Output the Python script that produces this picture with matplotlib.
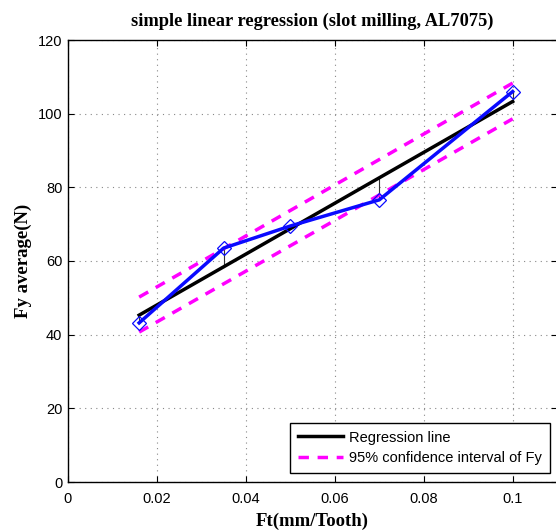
import numpy as np
import matplotlib
matplotlib.use('Agg')
import matplotlib.pyplot as plt

# Datos
Ft = [0.016, 0.035, 0.050, 0.070, 0.100]
Fy = [43.2, 63.5, 69.5, 76.6, 106.0]

# Recta de regresion y banda del 95% (extremos)
Reg_x = [0.016, 0.100]
Reg_y = [45.3, 103.3]
IC_sup = [50.2, 108.3]
IC_inf = [40.7, 98.6]

plt.rcParams['font.family'] = ['Liberation Sans', 'DejaVu Sans']

fig = plt.figure(figsize=(5.56, 5.31), dpi=100)
ax = fig.add_axes([68/556, 1-482/531, 1.002-68/556, (482-40)/531])

# residuos (lineas verticales finas)
Fy_reg = np.interp(Ft, Reg_x, Reg_y)
for x, y, yr in zip(Ft, Fy, Fy_reg):
    ax.plot([x, x], [y, yr], color='#333333', lw=0.8, zorder=2)

ax.plot(Reg_x, Reg_y, color='black', lw=2.5, label='Regression line', zorder=3)
ax.plot(Reg_x, IC_sup, color='#ff00ff', lw=2.5, ls=(0, (3, 2.5)),
        label='95% confidence interval of Fy', zorder=3)
ax.plot(Reg_x, IC_inf, color='#ff00ff', lw=2.5, ls=(0, (3, 2.5)), zorder=3)
ax.plot(Ft, Fy, color='#0a0aff', lw=2.5, marker='D', markersize=7,
        markerfacecolor='none', markeredgecolor='#0a0aff', markeredgewidth=0.9,
        zorder=4)

ax.set_xlim(0, 0.11)
ax.set_ylim(0, 120)
ax.set_xticks([0, 0.02, 0.04, 0.06, 0.08, 0.1])
ax.set_xticklabels(['0', '0.02', '0.04', '0.06', '0.08', '0.1'])
ax.set_yticks(np.arange(0, 121, 20))
ax.grid(True, color='#888888', ls=(0, (1, 4)), lw=0.8)
ax.tick_params(direction='in', top=True, right=True, labelsize=10.5,
               length=4, width=0.8)
ax.tick_params(axis='x', pad=7)
ax.tick_params(axis='y', pad=4)
for s in ax.spines.values():
    s.set_linewidth(1.0)

ax.set_title('simple linear regression (slot milling, AL7075)',
             family='Liberation Serif', fontweight='bold', fontsize=13.2, pad=10)
ax.set_xlabel('Ft(mm/Tooth)', family='Liberation Serif', fontweight='bold',
              fontsize=13.5, labelpad=5)
ax.set_ylabel('Fy average(N)', family='Liberation Serif', fontweight='bold',
              fontsize=13.5, labelpad=4)

leg = ax.legend(loc='lower right', bbox_to_anchor=(0.985, 0.02),
                fontsize=10.5, fancybox=False, framealpha=1,
                edgecolor='black', handlelength=3.1, borderpad=0.55,
                labelspacing=0.45, handletextpad=0.4, borderaxespad=0)
leg.get_frame().set_linewidth(1.0)

fig.savefig('out.png', dpi=100)
